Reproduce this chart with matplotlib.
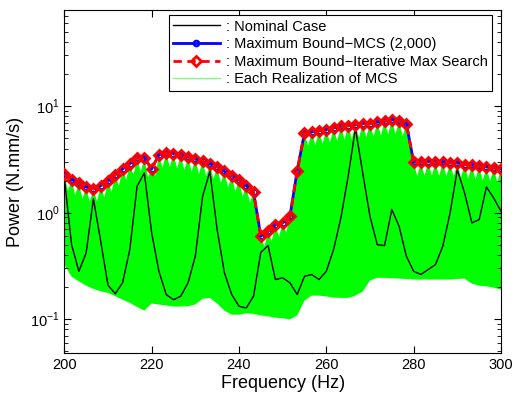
import numpy as np
import matplotlib
matplotlib.use('Agg')
import matplotlib.pyplot as plt

plt.rcParams['font.family'] = ['Liberation Sans', 'DejaVu Sans']
plt.rcParams['mathtext.fontset'] = 'custom'
plt.rcParams['mathtext.rm'] = 'Liberation Sans'

# frequency grid (61 points, 200..300 Hz)
freq = np.linspace(200, 300, 61)

# maximum bound (MCS and iterative search give the same values)
max_bound = [2.31, 2.04, 1.90, 1.74, 1.67, 1.79, 1.97, 2.27, 2.57, 2.88,
             3.26, 3.26, 2.57, 3.50, 3.63, 3.58, 3.45, 3.33, 3.19, 3.03,
             2.87, 2.69, 2.44, 2.22, 2.04, 1.79, 1.56, 0.60, 0.67, 0.77,
             0.80, 0.92, 2.48, 5.60, 5.72, 5.89, 6.03, 6.25, 6.47, 6.57,
             6.72, 6.87, 6.87, 7.06, 7.20, 7.47, 7.20, 6.87, 2.97, 2.97,
             3.01, 2.97, 2.97, 2.93, 2.93, 2.82, 2.78, 2.72, 2.69, 2.63,
             2.58]

# nominal case
nominal = [2.12, 0.50, 0.281, 0.418, 1.35, 0.538, 0.208, 0.173, 0.219, 0.45,
           1.77, 2.36, 0.645, 0.281, 0.17, 0.152, 0.164, 0.219, 0.389, 1.42,
           2.44, 0.692, 0.272, 0.17, 0.132, 0.127, 0.164, 0.424, 0.49, 0.235,
           0.244, 0.219, 0.17, 0.252, 0.262, 0.235, 0.281, 0.45, 0.89, 2.19,
           6.2, 2.36, 0.92, 0.50, 0.49, 1.07, 0.743, 0.389, 0.281, 0.262,
           0.292, 0.325, 0.483, 0.99, 2.53, 1.53, 0.80, 0.86, 1.74, 1.37,
           1.03]

# envelope of all MCS realizations: lower edge at each frequency
mcs_low = [0.325, 0.25, 0.226, 0.206, 0.192, 0.182, 0.176, 0.164, 0.152, 0.142,
           0.130, 0.12, 0.14, 0.137, 0.134, 0.131, 0.131, 0.132, 0.137, 0.155,
           0.158, 0.14, 0.12, 0.110, 0.110, 0.113, 0.112, 0.108, 0.106, 0.103,
           0.102, 0.099, 0.108, 0.149, 0.166, 0.166, 0.163, 0.159, 0.158, 0.158,
           0.166, 0.181, 0.23, 0.244, 0.244, 0.242, 0.24, 0.238, 0.235, 0.235,
           0.235, 0.235, 0.235, 0.235, 0.238, 0.24, 0.215, 0.206, 0.203, 0.197,
           0.189]

# upper edge of realizations midway between frequencies (the white notches)
mcs_dip = [1.60, 1.46, 1.35, 1.26, 1.28, 1.39, 1.57, 1.79, 2.02, 2.27,
           2.42, 2.15, 2.22, 2.64, 2.68, 2.61, 2.51, 2.42, 2.30, 2.19,
           2.06, 1.90, 1.72, 1.58, 1.42, 1.24, 0.90, 0.48, 0.54, 0.59,
           0.65, 1.40, 3.45, 4.20, 4.30, 4.42, 4.55, 4.72, 4.83, 4.93,
           5.03, 5.09, 5.16, 5.29, 5.44, 5.44, 5.22, 4.2, 2.20, 2.21,
           2.21, 2.20, 2.19, 2.17, 2.13, 2.08, 2.04, 2.00, 1.97, 1.93]

labels = [': Nominal Case',
          ': Maximum Bound\u2212MCS (2,000)',
          ': Maximum Bound\u2212Iterative Max Search',
          ': Each Realization of MCS']

mid = (freq[:-1] + freq[1:]) / 2
top_x = np.empty(len(freq) + len(mid))
top_y = np.empty(len(freq) + len(mid))
top_x[0::2] = freq
top_x[1::2] = mid
top_y[0::2] = max_bound
top_y[1::2] = mcs_dip

fig = plt.figure(figsize=(5.12, 3.96), dpi=100)
ax = fig.add_axes([0.1256, 0.1086, 0.8529, 0.8661])

ax.fill(np.concatenate([top_x, freq[::-1]]),
        np.concatenate([top_y, np.array(mcs_low)[::-1]]),
        color='#00ff00', lw=0, zorder=1)
h_nom, = ax.plot(freq, nominal, color='k', lw=1, zorder=2)
h_mcs, = ax.plot(freq, max_bound, color='b', lw=2, marker='o', ms=4,
                 mfc='none', mew=1.5, zorder=3)
h_ims, = ax.plot(freq, max_bound, color='r', lw=2, ls='--', dashes=(3, 2),
                 marker='D', ms=5.5, mfc='none', mew=2, zorder=4)
h_each, = ax.plot([], [], color='#7fff7f', lw=1)

ax.set_yscale('log')
ax.set_xlim(200, 300)
ax.set_ylim(0.048, 80)
ax.set_xticks([200, 220, 240, 260, 280, 300])
ax.set_yticks([0.1, 1, 10])
ax.set_yticklabels(['$10^{-1}$', '$10^{0}$', '$10^{1}$'])
ax.tick_params(which='both', direction='in', top=True, right=True, labelsize=10.5)
ax.tick_params(which='major', length=5)
ax.tick_params(which='minor', length=3)
for s in ax.spines.values():
    s.set_linewidth(0.8)

ax.set_xlabel('Frequency (Hz)', fontsize=13, labelpad=2)
ax.set_ylabel('Power (N.mm/s)', fontsize=13, labelpad=4)

leg = ax.legend([h_nom, h_mcs, h_ims, h_each], labels, loc='upper right',
                bbox_to_anchor=(0.979, 0.985), borderaxespad=0, fontsize=10.5,
                handlelength=3.2, handletextpad=0.4, labelspacing=0.25,
                borderpad=0.3, fancybox=False, framealpha=1, edgecolor='k')
leg.get_frame().set_linewidth(0.8)
leg.set_zorder(10)

fig.savefig('out.png', dpi=100)
